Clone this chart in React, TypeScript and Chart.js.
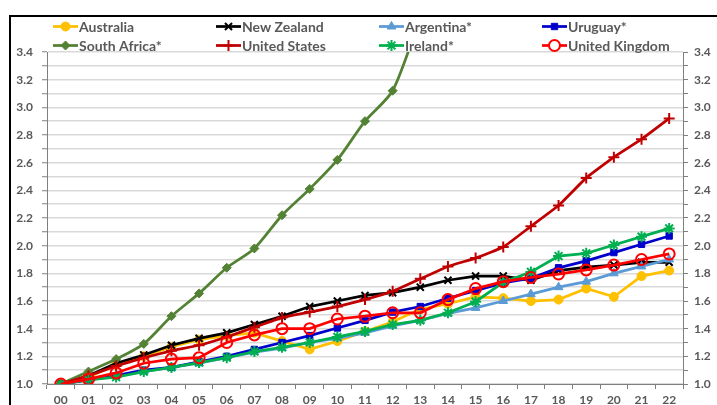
import React, { useEffect, useRef } from 'react';
import { Chart, registerables } from 'chart.js';
import { drawPoint } from 'chart.js/helpers';

Chart.register(...registerables);

const years = ['00', '01', '02', '03', '04', '05', '06', '07', '08', '09', '10', '11', '12', '13', '14', '15', '16', '17', '18', '19', '20', '21', '22'];

const australia = [1.0, 1.05, 1.14, 1.2, 1.27, 1.32, 1.35, 1.37, 1.31, 1.25, 1.31, 1.38, 1.45, 1.54, 1.58, 1.63, 1.62, 1.6, 1.61, 1.69, 1.63, 1.78, 1.82];
const newZealand = [1.0, 1.06, 1.15, 1.21, 1.28, 1.33, 1.37, 1.43, 1.49, 1.56, 1.6, 1.64, 1.66, 1.7, 1.75, 1.78, 1.78, 1.75, 1.82, 1.845, 1.86, 1.88, 1.88];
const argentina = [1.0, 1.03, 1.06, 1.09, 1.12, 1.15, 1.19, 1.23, 1.26, 1.3, 1.33, 1.37, 1.42, 1.46, 1.51, 1.55, 1.6, 1.65, 1.7, 1.74, 1.8, 1.85, 1.9];
const uruguay = [1.0, 1.03, 1.06, 1.1, 1.12, 1.16, 1.2, 1.25, 1.3, 1.35, 1.405, 1.46, 1.52, 1.56, 1.62, 1.675, 1.73, 1.765, 1.84, 1.89, 1.95, 2.01, 2.07];
const southAfrica = [1.0, 1.09, 1.18, 1.29, 1.49, 1.655, 1.84, 1.98, 2.22, 2.41, 2.62, 2.9, 3.12, 3.65, null, null, null, null, null, null, null, null, null];
const unitedStates = [1.0, 1.06, 1.13, 1.19, 1.24, 1.28, 1.34, 1.41, 1.48, 1.52, 1.56, 1.61, 1.67, 1.76, 1.85, 1.91, 1.99, 2.14, 2.29, 2.49, 2.64, 2.77, 2.92];
const ireland = [1.0, 1.03, 1.05, 1.09, 1.12, 1.155, 1.19, 1.235, 1.265, 1.3, 1.34, 1.38, 1.43, 1.46, 1.515, 1.595, 1.735, 1.81, 1.925, 1.945, 2.005, 2.065, 2.125];
const unitedKingdom = [1.0, 1.035, 1.08, 1.15, 1.18, 1.19, 1.3, 1.355, 1.4, 1.4, 1.47, 1.49, 1.515, 1.515, 1.61, 1.69, 1.74, 1.77, 1.795, 1.825, 1.86, 1.9, 1.94];

const yTickValues = [1.0, 1.2, 1.4, 1.6, 1.8, 2.0, 2.2, 2.4, 2.6, 2.8, 3.0, 3.2, 3.4];

const FONT = 'Lato, "Open Sans", sans-serif';
const TEXT = '#595959';

type Series = {
  label: string;
  data: (number | null)[];
  color: string;
  style: string;
  radius: number;
  fill: string;
  bw: number;
  tension: number;
};

const series: Series[] = [
  { label: 'Australia', data: australia, color: '#FFC000', style: 'circle', radius: 4.5, fill: '#FFC000', bw: 1, tension: 0 },
  { label: 'New Zealand', data: newZealand, color: '#000000', style: 'crossRot', radius: 5, fill: '#000000', bw: 2, tension: 0 },
  { label: 'Argentina*', data: argentina, color: '#5B9BD5', style: 'triangle', radius: 5, fill: '#5B9BD5', bw: 1, tension: 0 },
  { label: 'Uruguay*', data: uruguay, color: '#0000CC', style: 'rect', radius: 4.5, fill: '#0000CC', bw: 1, tension: 0 },
  { label: 'South Africa*', data: southAfrica, color: '#548235', style: 'rectRot', radius: 4.5, fill: '#548235', bw: 1, tension: 0.25 },
  { label: 'United States', data: unitedStates, color: '#C00000', style: 'cross', radius: 5.5, fill: '#C00000', bw: 2, tension: 0.1 },
  { label: 'Ireland*', data: ireland, color: '#00B050', style: 'star', radius: 5.5, fill: '#00B050', bw: 2, tension: 0 },
  { label: 'United Kingdom', data: unitedKingdom, color: '#FF0000', style: 'circle', radius: 5.5, fill: 'rgba(255,255,255,0)', bw: 2, tension: 0 },
];

const legendCols = [42, 205, 368, 531];
const legendRows = [9.5, 28.5];

const legendPlugin = {
  id: 'gridLegend',
  afterDraw(chart: any) {
    const ctx = chart.ctx as CanvasRenderingContext2D;
    ctx.save();
    series.forEach((s, i) => {
      const x = legendCols[i % 4];
      const y = legendRows[Math.floor(i / 4)];
      ctx.strokeStyle = s.color;
      ctx.lineWidth = 2.75;
      ctx.beginPath();
      ctx.moveTo(x, y);
      ctx.lineTo(x + 25, y);
      ctx.stroke();
      ctx.fillStyle = s.fill === 'rgba(255,255,255,0)' ? '#ffffff' : s.fill;
      ctx.strokeStyle = s.color;
      ctx.lineWidth = s.bw;
      drawPoint(ctx, { pointStyle: s.style as any, radius: s.radius, borderWidth: s.bw, rotation: 0 }, x + 12.5, y);
      ctx.fillStyle = TEXT;
      ctx.font = `bold 14px ${FONT}`;
      ctx.textBaseline = 'middle';
      ctx.textAlign = 'left';
      ctx.fillText(s.label, x + 26, y + 1);
    });
    ctx.restore();
  },
};

const labelFor = (v: number) => {
  const r = Math.round(v * 10) / 10;
  return yTickValues.some((t) => Math.abs(t - r) < 1e-6) ? r.toFixed(1) : '';
};

export default function App() {
  const ref = useRef<HTMLCanvasElement | null>(null);

  useEffect(() => {
    if (!ref.current) return;
    const n = series.length;
    const chart = new Chart(ref.current, {
      type: 'line',
      data: {
        labels: years,
        datasets: series.map((s, i) => ({
          label: s.label,
          data: s.data,
          borderColor: s.color,
          backgroundColor: s.fill,
          borderWidth: 2.75,
          pointStyle: s.style as any,
          pointRadius: s.radius,
          pointBorderWidth: s.bw,
          pointBorderColor: s.color,
          pointBackgroundColor: s.fill,
          tension: s.tension,
          fill: false,
          order: n - 1 - i,
          yAxisID: 'y',
        })),
      },
      options: {
        animation: false,
        responsive: true,
        maintainAspectRatio: false,
        layout: { padding: { left: 0, right: 0, top: 35, bottom: 0 } },
        plugins: {
          legend: { display: false },
          tooltip: { enabled: false },
        },
        scales: {
          x: {
            type: 'category',
            offset: true,
            grid: {
              offset: true,
              drawOnChartArea: false,
              drawTicks: true,
              tickLength: 5,
              tickColor: '#7f7f7f',
              tickWidth: 1,
            },
            border: { color: '#7f7f7f', width: 1 },
            ticks: {
              color: TEXT,
              font: { family: FONT, size: 12, weight: 'bold' },
              padding: 4,
              maxRotation: 0,
              autoSkip: false,
            },
            afterFit: (scale: any) => {
              scale.height = 33;
            },
          },
          y: {
            type: 'linear',
            position: 'left',
            min: 1.0,
            max: 3.4,
            grid: {
              color: '#D9D9D9',
              lineWidth: 1.5,
              tickLength: 5,
              tickColor: '#7f7f7f',
              tickWidth: 1,
            },
            border: { color: '#7f7f7f', width: 1 },
            ticks: {
              stepSize: 0.1,
              autoSkip: false,
              color: TEXT,
              font: { family: FONT, size: 12, weight: 'bold' },
              padding: 9,
              callback: (v: any) => labelFor(Number(v)),
            },
            afterFit: (scale: any) => {
              scale.width = 36;
            },
          },
          y2: {
            type: 'linear',
            position: 'right',
            min: 1.0,
            max: 3.4,
            grid: {
              drawOnChartArea: false,
              tickLength: 5,
              tickColor: '#7f7f7f',
              tickWidth: 1,
            },
            border: { color: '#7f7f7f', width: 1 },
            ticks: {
              stepSize: 0.1,
              autoSkip: false,
              color: TEXT,
              font: { family: FONT, size: 12, weight: 'bold' },
              padding: 6,
              callback: (v: any) => labelFor(Number(v)),
            },
            afterFit: (scale: any) => {
              scale.width = 44;
            },
          },
        },
      },
      plugins: [legendPlugin],
    });
    return () => chart.destroy();
  }, []);

  return (
    <div style={{ position: 'fixed', left: 0, top: 0, width: 717, height: 405, overflow: 'hidden', background: '#ffffff' }}>
      <div
        style={{
          position: 'absolute',
          left: 9,
          top: 15,
          width: 716,
          height: 400,
          border: '2px solid #000000',
          background: '#ffffff',
        }}
      >
        <canvas ref={ref} />
      </div>
    </div>
  );
}
